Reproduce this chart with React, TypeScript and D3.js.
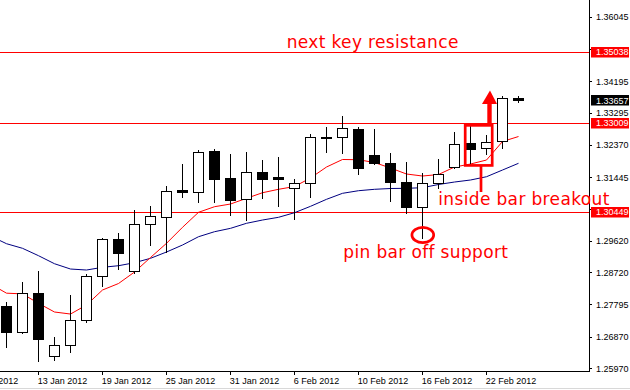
import React from "react";
import * as d3 from "d3";

// daily EURUSD-style bars, 10 Jan 2012 .. 24 Feb 2012
const dates = [
  "10 Jan", "11 Jan", "12 Jan", "13 Jan", "16 Jan", "17 Jan", "18 Jan", "19 Jan", "20 Jan",
  "23 Jan", "24 Jan", "25 Jan", "26 Jan", "27 Jan", "30 Jan", "31 Jan",
  "1 Feb", "2 Feb", "3 Feb", "6 Feb", "7 Feb", "8 Feb", "9 Feb", "10 Feb",
  "13 Feb", "14 Feb", "15 Feb", "16 Feb", "17 Feb", "20 Feb", "21 Feb", "22 Feb", "23 Feb", "24 Feb",
];

const open = [null, 1.27762, 1.27025, 1.28126, 1.26319, 1.26635, 1.27352, 1.28614, 1.29675, 1.28757, 1.30105,
  1.30323, 1.31089, 1.3104, 1.32207, 1.31424, 1.30822, 1.31596, 1.31453, 1.31138, 1.31281, 1.32594, 1.326,
  1.3283, 1.32093, 1.31855, 1.3131, 1.3061, 1.31281, 1.3174, 1.32445, 1.32285, 1.32494, 1.33727];
const high = [null, 1.27885, 1.28459, 1.28766, 1.26881, 1.28077, 1.2868, 1.29721, 1.29864, 1.30515, 1.3063,
  1.31212, 1.31834, 1.32236, 1.32265, 1.32113, 1.3217, 1.31949, 1.32035, 1.31396, 1.32695, 1.32904, 1.33211,
  1.32904, 1.32838, 1.32159, 1.31883, 1.31568, 1.31969, 1.32752, 1.32924, 1.32666, 1.33793, 1.33785];
const low = [null, 1.26595, 1.26979, 1.26193, 1.26213, 1.26451, 1.27312, 1.28344, 1.28832, 1.28717, 1.2952,
  1.29319, 1.30879, 1.30753, 1.30753, 1.30372, 1.30228, 1.30851, 1.30639, 1.30266, 1.30879, 1.32187, 1.32141,
  1.31539, 1.31834, 1.30782, 1.30421, 1.29721, 1.31138, 1.3173, 1.31826, 1.32113, 1.32302, 1.33613];
const close = [null, 1.27025, 1.28126, 1.26807, 1.26635, 1.2736, 1.28614, 1.29675, 1.29291, 1.30105, 1.30343,
  1.3106, 1.31031, 1.3217, 1.31413, 1.30802, 1.31596, 1.31413, 1.31404, 1.31281, 1.326, 1.32609, 1.32858,
  1.31711, 1.31855, 1.31327, 1.3061, 1.31281, 1.31539, 1.32399, 1.32273, 1.32474, 1.33719, 1.33657];

// moving averages (red = fast, navy = slow)
const maFast = [1.28393, 1.2813, 1.2811, 1.27839, 1.2759, 1.27532, 1.27791, 1.28221, 1.28407, 1.28737, 1.29153,
  1.2956, 1.30019, 1.30449, 1.3061, 1.30687, 1.30851, 1.31011, 1.31109, 1.31189, 1.31433, 1.31748, 1.31964,
  1.31958, 1.31877, 1.3172, 1.31548, 1.3149, 1.31533, 1.31748, 1.31834, 1.31949, 1.3248, 1.32623];
const maSlow = [1.2977, 1.29549, 1.29417, 1.29205, 1.28975, 1.28823, 1.28794, 1.28872, 1.28918, 1.29004, 1.2913,
  1.29311, 1.29511, 1.29749, 1.29893, 1.2999, 1.30134, 1.30228, 1.30306, 1.30438, 1.30621, 1.30822, 1.30994,
  1.31069, 1.31109, 1.31132, 1.31138, 1.31155, 1.31247, 1.31318, 1.31376, 1.3147, 1.31662, 1.31855];

const priceTicks = [1.36045, 1.3512, 1.34195, 1.33295, 1.3237, 1.31445, 1.3052, 1.2962, 1.2872, 1.27795, 1.2687, 1.2597];
const dateLabels = ["9 Jan 2012", "13 Jan 2012", "19 Jan 2012", "25 Jan 2012", "31 Jan 2012", "6 Feb 2012",
  "10 Feb 2012", "16 Feb 2012", "22 Feb 2012"];
const dateLabelBar = [-1, 3, 7, 11, 15, 19, 23, 27, 31];

const levels = [1.35038, 1.33009, 1.30449];
const lastPrice = 1.33657;

const RED = "#ff0000";
const NAVY = "#000080";

export default function App() {
  const plotRight = 589;
  const plotBottom = 371;
  const x = d3.scaleLinear().domain([0, dates.length - 1]).range([-9.5, 518.5]);
  const y = d3.scaleLinear().domain([1.2597, 1.36045]).range([368.5, 17.2]);
  const px = (v: number) => Math.floor(v) + 0.5;

  const line = d3.line<number>().x((_, i) => x(i)).y((d) => y(d));

  const candles = dates.map((d, i) => {
    if (open[i] == null) return null;
    const o = open[i] as number, c = close[i] as number;
    const cx = x(i);
    const top = Math.round(y(Math.max(o, c))) + 0.5;
    const bot = Math.round(y(Math.min(o, c))) + 0.5;
    const up = c >= o;
    return (
      <g key={d}>
        <line x1={cx} x2={cx} y1={Math.round(y(high[i] as number))} y2={Math.round(y(low[i] as number)) + 1}
          stroke="#000" strokeWidth={1} />
        {bot - top < 1 ? (
          <line x1={cx - 5} x2={cx + 6} y1={top} y2={top} stroke="#000" strokeWidth={1.4} />
        ) : (
          <rect x={cx - 5} y={top} width={10} height={bot - top} fill={up ? "#fff" : "#000"} stroke="#000" strokeWidth={1} />
        )}
      </g>
    );
  });

  // annotation geometry (anchored on bars / prices)
  const boxL = x(30) - 5.3, boxR = x(31) + 5.7;
  const boxT = y(1.33009) + 2.3, boxB = y(1.31757) - 1.3;
  const arrowX = x(31) + 3;
  const arrowBase = y(1.33555);
  const arrowTip = y(1.33942);
  const linkX = x(30) + 10.5;

  const fontAxis = "'Liberation Sans', Arial, sans-serif";
  const fontNote = "'DejaVu Sans', Verdana, sans-serif";

  return (
    <svg width={630} height={390} style={{ position: "fixed", left: 0, top: 0, background: "#fff" }}>
      <defs>
        <clipPath id="plot">
          <rect x={0} y={0} width={plotRight} height={plotBottom} />
        </clipPath>
      </defs>
      <rect x={0} y={0} width={630} height={390} fill="#fff" />

      <g clipPath="url(#plot)">
        {levels.map((v) => (
          <line key={v} x1={0} x2={plotRight} y1={px(y(v))} y2={px(y(v))} stroke={RED} strokeWidth={1} />
        ))}
        <path d={line(maSlow) || ""} fill="none" stroke={NAVY} strokeWidth={1} />
        <path d={line(maFast) || ""} fill="none" stroke={RED} strokeWidth={1} />
        {candles}
      </g>

      {/* axes */}
      <line x1={plotRight + 0.5} x2={plotRight + 0.5} y1={0} y2={plotBottom + 1} stroke="#000" />
      <line x1={0} x2={plotRight + 1} y1={plotBottom + 0.5} y2={plotBottom + 0.5} stroke="#000" />
      <line x1={0} x2={630} y1={388.5} y2={388.5} stroke="#d8d8d8" />

      {priceTicks.map((v) => (
        <g key={v}>
          <line x1={plotRight} x2={plotRight + 3} y1={px(y(v))} y2={px(y(v))} stroke="#000" />
          <text x={596} y={y(v)} dy="0.35em" fontFamily={fontAxis} fontSize={9} fill="#000">
            {v.toFixed(5)}
          </text>
        </g>
      ))}

      {[...levels, lastPrice].map((v) => (
        <g key={"box" + v}>
          <rect x={591} y={Math.round(y(v)) - 5} width={38} height={10.5} fill={v === lastPrice ? "#000" : RED} />
          <text x={596} y={y(v)} dy="0.35em" fontFamily={fontAxis} fontSize={9} fill="#fff">
            {v.toFixed(5)}
          </text>
        </g>
      ))}

      {dateLabels.map((t, k) => {
        const tx = x(dateLabelBar[k]);
        return (
          <g key={t}>
            <line x1={tx} x2={tx} y1={plotBottom} y2={plotBottom + 4} stroke="#000" />
            <text x={tx - 0.8} y={384.3} fontFamily={fontAxis} fontSize={9} fill="#000">{t}</text>
          </g>
        );
      })}

      {/* annotations */}
      <rect x={boxL} y={boxT} width={boxR - boxL} height={boxB - boxT} fill="none" stroke={RED} strokeWidth={2.7} />
      <line x1={linkX} x2={linkX} y1={boxB} y2={192} stroke={RED} strokeWidth={2.7} />
      <rect x={arrowX - 2.2} y={arrowBase} width={4.4} height={boxT - arrowBase} fill={RED} />
      <path d={`M${arrowX - 7.5},${arrowBase} L${arrowX + 7.5},${arrowBase} L${arrowX + 0.5},${arrowTip} Z`} fill={RED} />
      <ellipse cx={x(27) + 0.3} cy={y(low[27] as number) - 2.7} rx={10.9} ry={7.7} fill="none" stroke={RED} strokeWidth={2.7} />

      <text x={286.7} y={48.3} fontFamily={fontNote} fontSize={17} letterSpacing={0.35} fill={RED}>next key resistance</text>
      <text x={438.3} y={205} fontFamily={fontNote} fontSize={17} letterSpacing={0.35} fill={RED}>inside bar breakout</text>
      <text x={343.3} y={258.3} fontFamily={fontNote} fontSize={17} letterSpacing={0.35} fill={RED}>pin bar off support</text>
    </svg>
  );
}
